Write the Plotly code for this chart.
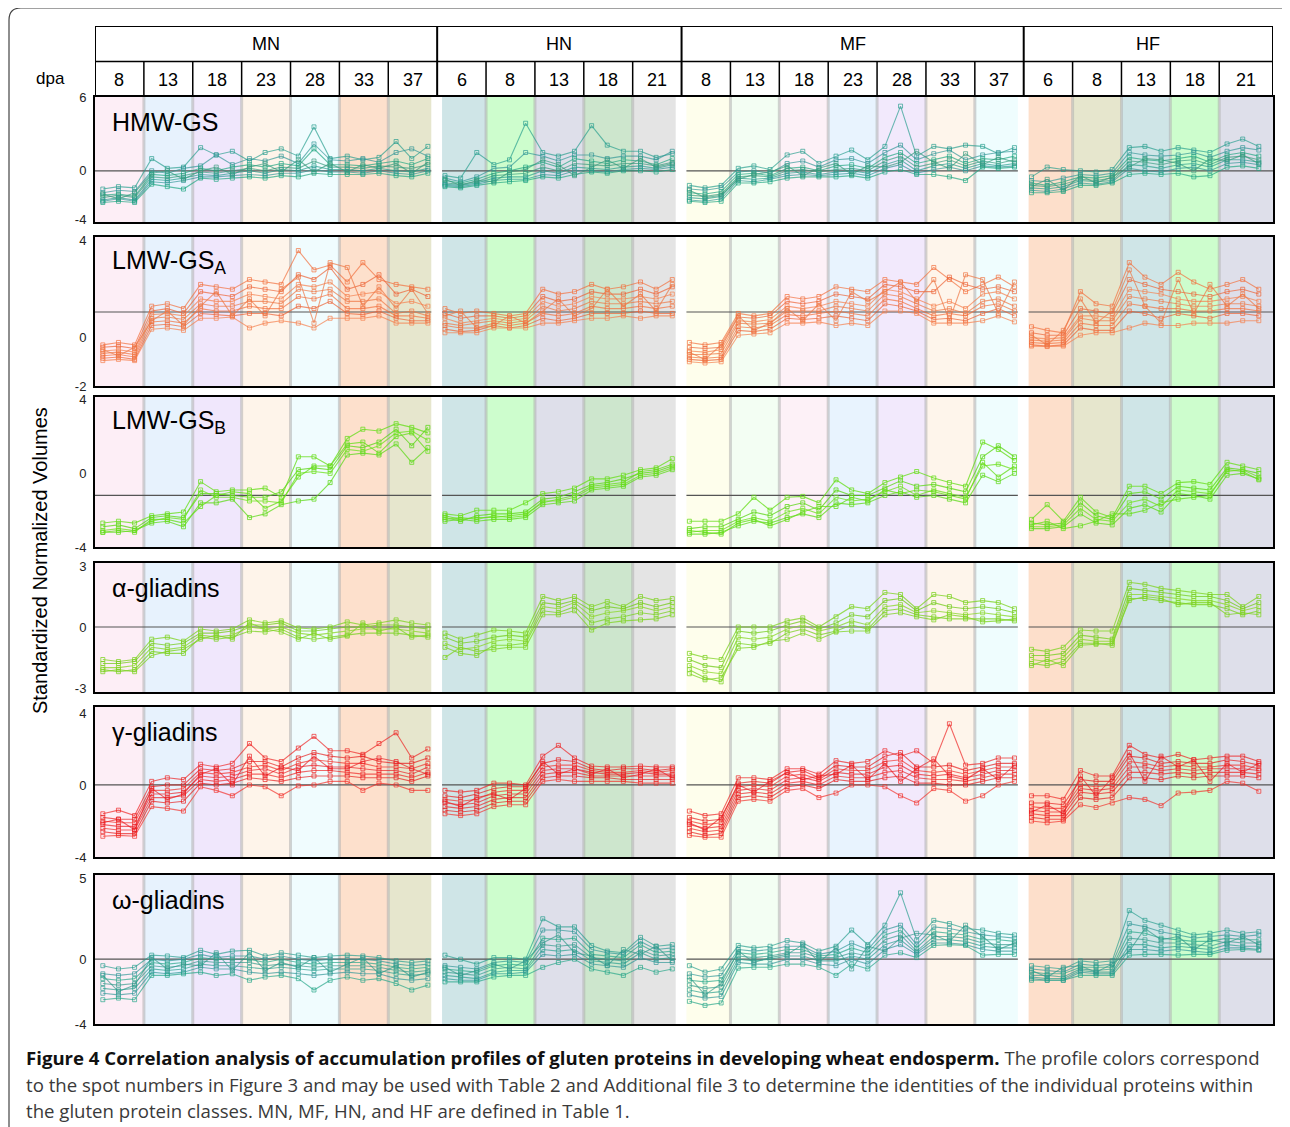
import plotly.graph_objects as go

W, H = 1290, 1127
PAGE_OFFSET = 8  # default body margin of the html page

# ---------------- categories / labels ----------------
GROUPS = ["MN", "HN", "MF", "HF"]
DPA = {"MN": [8, 13, 18, 23, 28, 33, 37], "HN": [6, 8, 13, 18, 21],
       "MF": [8, 13, 18, 23, 28, 33, 37], "HF": [6, 8, 13, 18, 21]}
BAND_COLORS = ["#fdeef6", "#e7f2fd", "#f0e7fc", "#fef4ea", "#f0fcfe", "#fde0cc", "#e6e6cd",
               "#cfe5e7", "#cdfdcd", "#dedfea", "#cde6cd", "#e4e4e4",
               "#fefeec", "#f3fef3", "#fdf1f7", "#e8f3fe", "#f2e9fc", "#fef5eb", "#effdfe",
               "#fddfcb", "#e6e6cd", "#cfe5e7", "#cdfdcd", "#dedfea"]
PANEL_NAMES = ["HMW-GS", "LMW-GS<sub>A</sub>", "LMW-GS<sub>B</sub>",
               "\u03b1-gliadins", "\u03b3-gliadins", "\u03c9-gliadins"]
Y_TICKS = [[6, 0, -4], [4, 0, -2], [4, 0, -4], [3, 0, -3], [4, 0, -4], [5, 0, -4]]
Y_RANGES = [[-4.2, 6.05], [-2, 4.16], [-4, 4.15], [-3.2, 3.15], [-4, 4.33], [-4, 5.2]]
REF_LINE = [0, 1.06, -1.2, 0, 0, 0]
REP_OFFSETS = [0.16, 0.48, 0.81]

# ---------------- series values (3 replicates x 24 time points) ----------------
HMW_GS = [
    [-1.5,-1.3,-1.4, 1.0,0.2,0.3, 1.9,1.3,1.6, 0.8,1.5,1.8, 1.2,3.6,1.0, 1.2,0.9,1.1, 2.4,1.0,2.0,
     -0.4,-0.6,1.5, 0.5,0.9,3.9, 1.5,1.2,1.6, 3.7,2.1,1.6, 1.6,1.1,1.4,
     -1.2,-1.4,-1.2, 0.2,0.4,0.1, 1.3,1.6,0.6, 1.2,1.7,0.9, 2.0,5.3,1.2, 2.0,1.8,2.1, 2.0,1.4,1.9,
     -0.5,0.3,0.1, 0.0,-0.1,0.1, 1.9,2.0,1.6, 1.9,1.7,1.5, 2.2,2.6,2.0],
    [-1.8,-1.6,-1.7, 0.0,-0.2,0.2, 0.4,1.3,0.5, 1.0,0.8,1.2, 0.6,2.2,0.9, 0.8,1.0,0.7, 1.5,1.8,1.2,
     -0.6,-0.9,-0.5, 0.2,0.3,1.5, 1.2,0.8,1.3, 1.3,1.0,1.2, 1.2,0.9,1.6,
     -1.5,-1.6,-1.4, -0.1,0.0,-0.2, 0.6,0.8,0.3, 0.9,1.0,0.6, 1.5,2.1,0.9, 1.4,1.7,0.9, 1.3,1.5,1.6,
     -0.8,-0.9,-0.6, -0.3,-0.4,-0.2, 1.5,1.3,1.2, 1.3,1.5,1.1, 1.6,1.9,1.7],
    [-2.0,-1.9,-2.1, -0.3,-0.4,-0.2, 0.2,0.0,0.3, 0.5,0.3,0.6, 0.4,1.8,0.5, 0.5,0.4,0.6, 0.8,0.5,1.0,
     -0.8,-1.0,-0.7, -0.2,0.0,0.3, 0.7,0.3,1.0, 0.8,0.6,0.9, 0.8,0.5,1.0,
     -1.8,-1.9,-1.7, -0.3,-0.2,-0.4, 0.2,0.3,0.0, 0.4,0.5,0.2, 1.1,1.5,0.6, 0.9,1.2,0.6, 1.0,0.9,1.2,
     -1.0,-1.2,-0.9, -0.5,-0.6,-0.4, 1.1,0.9,0.8, 1.0,1.2,0.7, 1.3,1.5,1.2],
    [-2.2,-2.0,-2.2, -0.5,-0.6,-0.4, -0.1,-0.2,0.0, 0.2,0.0,0.3, 0.2,0.8,0.3, 0.3,0.2,0.4, 0.3,0.2,0.5,
     -1.0,-1.1,-0.9, -0.4,-0.3,-0.2, 0.3,0.0,0.6, 0.5,0.4,0.6, 0.6,0.4,0.7,
     -2.0,-2.1,-1.9, -0.5,-0.4,-0.5, 0.0,0.1,-0.1, 0.1,0.2,0.0, 0.8,1.2,0.3, 0.6,0.9,0.4, 0.8,0.6,0.9,
     -1.2,-1.3,-1.1, -0.7,-0.8,-0.6, 0.8,0.7,0.5, 0.8,0.9,0.5, 1.1,1.2,0.9],
    [-2.4,-2.2,-2.4, -0.7,-0.8,-0.6, -0.3,-0.4,-0.2, 0.0,-0.2,0.1, 0.0,0.4,0.1, 0.1,0.0,0.2, 0.0,-0.1,0.2,
     -1.1,-1.2,-1.0, -0.6,-0.5,-0.5, 0.0,-0.2,0.3, 0.2,0.1,0.3, 0.4,0.2,0.5,
     -2.2,-2.3,-2.1, -0.6,-0.7,-0.6, -0.2,-0.1,-0.3, -0.1,0.0,-0.2, 0.5,0.9,0.0, 0.4,0.6,0.2, 0.6,0.4,0.6,
     -1.4,-1.5,-1.3, -0.8,-0.9,-0.8, 0.5,0.4,0.2, 0.5,0.6,0.3, 0.9,0.9,0.7],
    [-2.5,-2.3,-2.5, -0.9,-1.0,-0.8, -0.5,-0.5,-0.4, -0.3,-0.4,-0.2, -0.2,0.1,-0.1, -0.1,-0.2,0.0, -0.2,-0.3,0.0,
     -1.2,-1.3,-1.1, -0.8,-0.7,-0.7, -0.3,-0.4,0.0, 0.0,-0.1,0.1, 0.2,0.1,0.3,
     -2.4,-2.5,-2.3, -0.8,-0.9,-0.7, -0.4,-0.3,-0.4, -0.3,-0.2,-0.4, 0.2,0.5,-0.2, 0.1,0.3,0.0, 0.4,0.3,0.4,
     -1.6,-1.7,-1.5, -1.0,-1.1,-0.9, 0.2,0.0,-0.1, 0.2,0.3,0.0, 0.6,0.7,0.5],
    [-2.6,-2.5,-2.6, -1.1,-1.3,-1.5, -0.6,-0.7,-0.6, -0.5,-0.6,-0.4, -0.5,-0.2,-0.3, -0.3,-0.3,-0.2, -0.4,-0.5,-0.2,
     -1.3,-1.4,-1.2, -1.0,-0.9,-0.8, -0.5,-0.6,-0.3, -0.1,-0.2,0.0, 0.0,-0.1,0.1,
     -2.5,-2.6,-2.5, -1.0,-1.0,-0.9, -0.6,-0.5,-0.5, -0.5,-0.4,-0.6, -0.1,0.1,-0.3, -0.3,-0.5,-0.8, 0.3,0.2,0.3,
     -1.8,-1.8,-1.7, -1.2,-1.2,-1.0, -0.3,-0.2,-0.3, -0.2,-0.5,-0.4, 0.3,0.4,0.2],
    [-1.9,-2.3,-1.8, -0.2,0.0,-0.7, 0.0,0.3,-0.3, 0.3,0.6,-0.1, 0.9,-0.1,0.6, -0.1,0.5,0.2, 0.6,-0.2,0.7,
     -0.7,-1.2,-0.8, -0.9,-0.1,0.1, 0.9,0.5,-0.4, 0.3,0.9,0.2, 1.0,0.3,0.6,
     -1.6,-2.2,-2.0, -0.7,-0.3,-0.1, 0.4,-0.4,0.2, 0.6,-0.3,0.4, 0.3,0.7,1.6, 0.7,0.2,1.4, 0.5,1.1,0.7,
     -1.3,-0.7,-1.6, -0.4,-1.0,-0.5, 0.3,1.0,0.9, 0.6,0.0,1.0, 0.8,1.3,0.6],
]

LMW_GS_A = [
    [-0.3,-0.2,-0.3, 1.3,1.4,1.2, 2.2,2.1,2.0, 2.4,2.3,2.2, 3.6,2.8,3.0, 2.3,3.1,2.4, 2.2,2.1,2.0,
     1.2,1.0,1.1, 1.0,0.9,1.0, 2.0,1.8,1.9, 2.2,2.0,2.1, 2.3,2.0,2.4,
     -0.2,-0.3,-0.2, 1.0,0.9,1.0, 1.7,1.6,1.7, 2.1,2.0,1.9, 2.4,2.3,2.2, 2.9,2.4,1.9, 2.2,2.5,2.1,
     0.45,0.3,0.2, 1.9,1.4,1.3, 3.1,2.5,2.2, 2.7,2.3,2.0, 2.2,2.4,2.0],
    [-0.4,-0.35,-0.45, 1.1,1.2,1.0, 1.9,1.8,1.7, 2.1,2.0,1.9, 2.6,2.4,2.9, 2.0,2.2,2.6, 1.8,2.0,1.7,
     1.0,0.8,0.9, 0.9,0.8,0.9, 1.7,1.5,1.6, 1.9,1.8,1.8, 2.0,1.8,2.1,
     -0.4,-0.45,-0.4, 0.85,0.8,0.9, 1.5,1.4,1.5, 1.8,1.7,1.6, 2.2,2.1,1.9, 1.9,2.5,2.2, 2.0,2.1,1.9,
     0.2,0.1,0.1, 1.2,1.1,1.0, 2.4,2.2,2.0, 1.9,1.8,1.7, 1.9,2.0,1.8],
    [-0.55,-0.5,-0.6, 0.95,1.0,0.9, 1.6,1.5,1.5, 1.8,1.7,1.6, 2.2,2.1,2.3, 1.7,1.8,1.9, 1.4,1.5,1.3,
     0.8,0.6,0.7, 0.8,0.7,0.8, 1.5,1.3,1.4, 1.7,1.6,1.6, 1.7,1.6,1.8,
     -0.55,-0.6,-0.5, 0.7,0.65,0.75, 1.3,1.2,1.3, 1.5,1.4,1.3, 2.0,1.9,1.6, 1.3,1.5,1.2, 1.8,1.9,1.6,
     0.0,-0.05,0.0, 0.9,0.9,0.8, 2.0,1.9,1.8, 1.6,1.5,1.5, 1.6,1.7,1.5],
    [-0.65,-0.6,-0.7, 0.8,0.85,0.75, 1.4,1.3,1.3, 1.5,1.5,1.4, 2.0,1.9,2.0, 1.5,1.5,1.6, 1.0,1.1,0.9,
     0.6,0.5,0.6, 0.7,0.6,0.7, 1.3,1.1,1.2, 1.5,1.4,1.4, 1.5,1.4,1.5,
     -0.7,-0.7,-0.65, 0.6,0.55,0.6, 1.1,1.1,1.1, 1.3,1.2,1.1, 1.8,1.7,1.4, 1.1,1.2,1.0, 1.5,1.6,1.3,
     -0.1,-0.15,-0.1, 0.8,0.7,0.7, 1.7,1.6,1.5, 1.4,1.3,1.3, 1.4,1.4,1.3],
    [-0.75,-0.7,-0.8, 0.65,0.7,0.6, 1.2,1.1,1.1, 1.3,1.2,1.2, 1.7,1.6,1.8, 1.2,1.2,1.3, 0.9,0.9,0.8,
     0.5,0.4,0.4, 0.6,0.5,0.6, 1.0,0.9,1.0, 1.3,1.2,1.2, 1.3,1.2,1.3,
     -0.8,-0.85,-0.8, 0.45,0.4,0.5, 0.95,0.9,1.0, 1.1,1.0,0.9, 1.6,1.5,1.2, 0.9,1.0,0.9, 1.3,1.4,1.1,
     -0.2,-0.25,-0.2, 0.6,0.5,0.5, 1.4,1.3,1.2, 1.2,1.1,1.1, 1.2,1.2,1.1],
    [-0.85,-0.8,-0.9, 0.5,0.55,0.45, 1.0,0.95,0.9, 1.0,1.0,0.9, 1.3,1.2,1.5, 1.0,0.95,1.1, 0.8,0.7,0.7,
     0.35,0.25,0.3, 0.5,0.4,0.5, 0.8,0.7,0.8, 1.0,1.0,1.0, 1.1,1.0,1.0,
     -0.9,-0.95,-0.9, 0.3,0.25,0.35, 0.8,0.75,0.8, 0.9,0.8,0.7, 1.4,1.3,1.1, 0.75,0.8,0.7, 1.0,1.2,0.9,
     -0.3,-0.35,-0.3, 0.4,0.3,0.3, 1.1,1.0,0.8, 1.0,0.9,0.8, 1.0,1.0,0.9],
    [-0.95,-0.9,-0.95, 0.35,0.4,0.3, 0.8,0.8,0.85, 0.4,0.6,0.7, 0.6,0.4,0.8, 0.8,0.8,0.9, 0.6,0.6,0.6,
     0.2,0.2,0.2, 0.4,0.4,0.4, 0.6,0.6,0.7, 0.8,0.8,0.9, 0.8,0.9,0.9,
     -1.0,-1.05,-1.0, 0.1,0.15,0.2, 0.6,0.6,0.65, 0.5,0.6,0.5, 1.1,1.1,1.0, 0.6,0.6,0.6, 0.7,0.9,0.65,
     -0.35,-0.37,-0.35, 0.1,0.2,0.2, 0.4,0.6,0.5, 0.5,0.6,0.6, 0.6,0.7,0.7],
    [-0.5,-0.75,-0.4, 0.7,1.1,0.5, 1.3,1.9,0.9, 1.6,0.9,2.0, 2.5,0.6,3.1, 2.9,1.3,2.1, 1.2,2.0,1.0,
     0.9,1.1,0.4, 0.5,0.9,0.6, 1.1,1.6,0.9, 1.2,2.0,1.3, 1.8,1.1,2.2,
     -0.6,-0.9,-0.3, 0.9,0.3,0.6, 1.2,0.7,1.4, 0.7,1.9,1.5, 1.9,2.3,1.5, 2.4,0.7,2.6, 2.4,1.0,2.3,
     0.1,-0.3,0.3, 1.6,0.6,1.1, 2.8,1.3,0.6, 2.4,1.0,2.2, 1.3,1.8,1.2],
]

LMW_GS_B = [
    [-2.7,-2.6,-2.7, -2.3,-2.2,-2.1, -0.45,-1.0,-0.9, -0.9,-0.8,-1.3, 0.9,0.9,0.4, 1.9,2.4,2.3, 2.7,2.5,2.2,
     -2.2,-2.3,-2.0, -2.0,-2.0,-1.6, -1.1,-1.0,-0.8, -0.3,-0.3,-0.1, 0.2,0.3,0.8,
     -2.6,-2.6,-2.6, -2.2,-1.3,-2.0, -1.3,-1.25,-1.6, -0.35,-0.9,-1.1, -0.5,-0.2,0.1, -0.25,-0.5,-0.7, 1.7,1.3,0.7,
     -2.5,-1.7,-2.6, -1.3,-2.1,-2.4, -0.7,-0.7,-1.1, -0.5,-0.45,-0.6, 0.6,0.4,0.2],
    [-2.9,-2.8,-3.0, -2.4,-2.3,-2.4, -1.1,-1.1,-1.2, -1.3,-1.3,-1.0, 0.2,0.3,0.2, 1.5,1.4,1.7, 2.4,1.5,2.5,
     -2.4,-2.6,-2.3, -2.2,-2.2,-2.1, -1.4,-1.3,-1.0, -0.6,-0.5,-0.3, 0.0,0.1,0.4,
     -3.0,-2.9,-2.9, -2.5,-2.1,-2.3, -1.8,-1.6,-2.0, -0.9,-1.2,-1.2, -0.8,-0.4,-0.7, -0.6,-0.8,-1.0, 0.9,1.5,0.9,
     -2.7,-2.8,-2.7, -1.6,-2.3,-2.5, -1.1,-1.0,-1.4, -0.7,-0.8,-0.9, 0.3,0.2,0.0],
    [-3.1,-3.0,-3.1, -2.6,-2.4,-2.5, -0.9,-1.3,-1.3, -1.5,-1.5,-1.6, 0.0,0.1,0.0, 1.3,1.2,1.5, 2.2,2.3,1.8,
     -2.5,-2.4,-2.5, -2.3,-2.4,-2.3, -1.5,-1.5,-1.3, -0.8,-0.7,-0.6, -0.1,0.0,0.3,
     -3.2,-3.1,-3.1, -2.6,-2.4,-2.6, -2.1,-1.9,-2.2, -1.3,-1.5,-1.4, -1.0,-0.7,-1.2, -0.9,-1.1,-1.3, 0.4,0.5,0.2,
     -2.9,-2.9,-2.8, -1.9,-2.5,-2.6, -1.6,-1.4,-1.8, -0.9,-1.0,-1.1, 0.1,0.2,-0.2],
    [-3.2,-3.2,-3.1, -2.7,-2.6,-2.9, -1.6,-1.6,-1.4, -2.4,-2.2,-1.7, -1.5,-1.4,-0.5, 1.0,1.1,1.0, 1.6,0.6,1.4,
     -2.6,-2.5,-2.6, -2.5,-2.5,-2.4, -1.7,-1.6,-1.5, -0.9,-0.8,-0.7, -0.2,-0.1,0.2,
     -3.3,-3.3,-3.2, -2.85,-2.6,-2.7, -2.4,-2.2,-2.4, -1.6,-1.7,-1.6, -1.2,-1.0,-1.3, -1.2,-1.4,-1.6, -0.1,-0.45,0.0,
     -3.0,-3.0,-2.9, -2.2,-2.7,-2.8, -1.9,-1.7,-2.1, -1.1,-1.2,-1.4, -0.1,0.0,-0.3],
    [-3.2,-3.1,-3.2, -2.5,-2.5,-2.7, -1.8,-1.2,-1.0, -1.1,-1.9,-1.5, -0.2,0.4,0.4, 1.6,1.7,1.1, 2.0,2.2,1.2,
     -2.3,-2.5,-2.4, -2.4,-2.3,-2.2, -1.6,-1.4,-1.2, -0.7,-0.6,-0.5, 0.1,0.2,0.5,
     -3.1,-3.2,-3.3, -2.7,-2.5,-2.85, -2.5,-2.1,-1.8, -1.8,-1.3,-1.5, -0.9,-1.1,-0.9, -1.0,-1.2,-1.4, 0.6,-0.2,0.4,
     -2.8,-2.6,-3.0, -2.85,-2.6,-2.2, -2.2,-2.0,-1.6, -1.4,-1.3,-1.2, 0.2,0.1,-0.35],
]

ALPHA_GLIADINS = [
    [-1.6,-1.7,-1.6, -0.6,-0.5,-0.7, -0.1,-0.2,-0.1, 0.35,0.2,0.3, -0.05,-0.1,0.0, 0.25,0.1,0.2, 0.35,0.2,0.1,
     -0.3,-0.6,-0.4, -0.15,-0.2,-0.3, 1.5,1.3,1.5, 1.0,1.25,1.0, 1.5,1.3,1.4,
     -1.3,-1.5,-1.6, 0.0,0.0,0.0, 0.3,0.45,0.0, 0.5,1.0,0.9, 1.7,1.6,0.9, 1.6,1.5,1.2, 1.3,1.2,0.9,
     -1.1,-1.2,-1.0, -0.15,-0.2,-0.2, 2.2,2.1,1.9, 1.8,1.7,1.6, 1.6,1.0,1.5],
    [-1.8,-1.8,-1.7, -0.8,-0.9,-0.8, -0.3,-0.3,-0.2, 0.1,0.1,0.2, -0.2,-0.2,-0.1, 0.0,0.0,0.1, 0.1,0.0,-0.1,
     -0.5,-0.8,-0.7, -0.5,-0.4,-0.5, 1.2,1.1,1.3, 0.8,1.0,0.9, 1.2,1.0,1.2,
     -1.6,-1.9,-2.0, -0.2,-0.3,-0.2, 0.1,0.3,-0.1, 0.2,0.6,0.5, 1.3,1.4,0.8, 1.2,1.0,0.9, 1.0,0.9,0.7,
     -1.4,-1.4,-1.3, -0.4,-0.5,-0.6, 1.9,1.8,1.7, 1.6,1.5,1.5, 1.3,0.9,1.2],
    [-2.0,-2.0,-1.9, -1.0,-1.1,-1.0, -0.4,-0.5,-0.4, 0.0,-0.1,0.0, -0.3,-0.4,-0.3, -0.2,-0.1,-0.1, -0.1,-0.2,-0.3,
     -0.8,-1.1,-1.0, -0.7,-0.6,-0.7, 1.0,0.9,1.2, 0.5,0.7,0.8, 1.0,0.8,1.0,
     -1.9,-2.2,-2.3, -0.5,-0.6,-0.5, -0.1,0.1,-0.2, 0.0,0.3,0.1, 1.0,1.1,0.7, 0.8,0.7,0.6, 0.7,0.6,0.5,
     -1.6,-1.7,-1.5, -0.6,-0.7,-0.7, 1.6,1.6,1.5, 1.4,1.3,1.3, 1.1,0.8,1.0],
    [-2.1,-2.2,-2.1, -1.2,-1.3,-1.3, -0.5,-0.6,-0.5, -0.2,-0.25,-0.1, -0.5,-0.6,-0.5, -0.4,-0.3,-0.3, -0.3,-0.4,-0.5,
     -1.0,-1.3,-1.4, -0.9,-0.9,-0.8, 0.8,0.7,1.0, 0.2,0.4,0.5, 0.7,0.6,0.8,
     -2.1,-2.5,-2.7, -0.8,-0.9,-0.8, -0.3,-0.1,-0.4, -0.2,0.1,-0.1, 0.8,0.9,0.6, 0.5,0.4,0.4, 0.4,0.4,0.3,
     -1.8,-1.9,-1.7, -0.8,-0.8,-0.9, 1.4,1.4,1.3, 1.2,1.1,1.1, 0.9,0.6,0.8],
    [-2.2,-2.1,-2.2, -1.4,-1.2,-1.1, -0.6,-0.4,-0.6, 0.2,-0.1,-0.25, -0.6,-0.3,-0.6, -0.45,0.2,-0.2, 0.0,-0.5,-0.4,
     -1.5,-1.0,-1.2, -1.1,-1.0,-1.0, 0.6,0.6,0.8, -0.15,0.2,0.3, 0.35,0.4,0.6,
     -2.3,-2.6,-2.5, -1.05,-1.0,-0.7, -0.6,-0.3,-0.6, -0.25,-0.2,-0.2, 0.6,0.7,0.5, 0.35,0.6,0.5, 0.25,0.3,0.4,
     -1.9,-1.6,-1.9, -0.9,-0.85,-0.8, 1.3,1.5,1.4, 1.1,1.2,1.2, 0.6,0.7,0.6],
]

GAMMA_GLIADINS = [
    [-1.6,-1.4,-1.7, 0.2,0.4,0.3, 1.15,1.0,1.2, 2.3,1.5,1.3, 2.05,2.7,1.9, 1.9,1.7,2.3, 2.9,1.5,2.0,
     -0.3,-0.4,-0.3, 0.1,0.1,0.0, 1.6,2.2,1.5, 1.05,1.0,1.0, 1.05,1.0,1.0,
     -1.45,-1.7,-1.6, 0.4,0.4,0.3, 0.9,0.9,0.6, 1.35,1.2,1.3, 1.9,1.6,1.9, 1.2,3.4,1.1, 1.2,1.5,1.5,
     -0.6,-0.6,-0.8, 0.8,0.5,0.5, 2.2,1.7,1.5, 1.7,1.4,1.5, 1.6,1.6,1.3],
    [-1.8,-1.9,-1.9, -0.1,0.0,0.0, 0.9,0.8,0.9, 1.3,1.3,1.0, 1.5,1.8,1.6, 1.5,1.6,1.3, 1.2,1.2,1.5,
     -0.6,-0.7,-0.5, -0.2,-0.1,-0.1, 1.2,1.4,1.3, 0.9,0.8,0.9, 0.9,0.8,0.9,
     -1.8,-2.0,-1.9, 0.1,0.2,0.1, 0.7,0.8,0.4, 1.1,1.0,1.0, 1.6,1.8,1.0, 1.0,1.1,0.8, 1.0,1.2,1.2,
     -1.0,-1.0,-1.1, 0.3,0.2,0.2, 1.6,1.5,1.2, 1.3,1.2,1.2, 1.4,1.3,1.1],
    [-2.0,-2.1,-2.1, -0.3,-0.3,-0.2, 0.7,0.6,0.7, 1.0,1.1,0.8, 1.2,1.4,1.3, 1.2,1.2,1.0, 1.0,0.9,1.2,
     -0.8,-0.9,-0.8, -0.4,-0.3,-0.3, 1.0,1.1,1.1, 0.8,0.7,0.7, 0.8,0.7,0.8,
     -2.0,-2.2,-2.1, -0.1,0.0,-0.1, 0.5,0.6,0.3, 0.9,0.8,0.8, 1.3,1.4,0.8, 0.7,0.8,0.6, 0.8,1.0,1.0,
     -1.2,-1.3,-1.3, 0.0,-0.1,0.0, 1.3,1.2,1.0, 1.1,1.0,1.0, 1.1,1.1,0.9],
    [-2.2,-2.3,-2.3, -0.5,-0.5,-0.4, 0.5,0.4,0.5, 0.8,0.9,0.6, 1.0,1.1,1.0, 1.0,0.9,0.8, 0.8,0.6,1.0,
     -1.0,-1.1,-1.0, -0.6,-0.5,-0.5, 0.8,0.9,0.9, 0.7,0.6,0.6, 0.7,0.6,0.6,
     -2.2,-2.4,-2.3, -0.3,-0.2,-0.3, 0.3,0.4,0.2, 0.7,0.6,0.6, 1.0,1.1,0.6, 0.5,0.6,0.4, 0.6,0.8,0.8,
     -1.4,-1.5,-1.5, -0.2,-0.3,-0.2, 1.0,1.0,0.8, 0.9,0.8,0.9, 0.9,0.9,0.8],
    [-2.4,-2.5,-2.5, -0.7,-0.7,-0.6, 0.3,0.2,0.3, 0.6,0.6,0.4, 0.7,0.8,0.8, 0.7,0.6,0.6, 0.6,0.4,0.7,
     -1.2,-1.3,-1.2, -0.8,-0.7,-0.7, 0.6,0.7,0.7, 0.5,0.5,0.5, 0.5,0.5,0.5,
     -2.4,-2.6,-2.5, -0.5,-0.4,-0.5, 0.1,0.2,0.0, 0.5,0.4,0.4, 0.7,0.8,0.4, 0.3,0.3,0.2, 0.4,0.6,0.6,
     -1.6,-1.7,-1.7, -0.4,-0.5,-0.4, 0.7,0.7,0.6, 0.7,0.6,0.7, 0.7,0.7,0.6],
    [-2.6,-2.7,-2.7, -0.9,-1.0,-0.9, 0.1,0.0,0.1, 0.4,0.3,0.2, 0.4,0.5,0.5, 0.5,0.4,0.4, 0.4,0.2,0.5,
     -1.4,-1.5,-1.4, -1.0,-0.9,-0.9, 0.4,0.5,0.5, 0.4,0.4,0.3, 0.3,0.3,0.3,
     -2.6,-2.8,-2.7, -0.7,-0.6,-0.7, -0.1,0.0,-0.2, 0.3,0.2,0.2, 0.4,0.5,0.1, 0.1,0.0,0.0, 0.2,0.4,0.4,
     -1.8,-1.9,-1.9, -0.7,-0.8,-0.7, 0.4,0.4,0.3, 0.5,0.4,0.5, 0.5,0.5,0.4],
    [-2.85,-2.8,-2.85, -1.2,-1.3,-1.45, -0.1,-0.3,-0.6, 0.0,-0.1,-0.6, -0.05,0.0,0.2, 0.2,-0.3,0.1, 0.0,-0.3,-0.3,
     -1.6,-1.7,-1.6, -1.2,-1.1,-1.1, 0.2,0.3,0.2, 0.2,0.2,0.2, 0.1,0.1,0.1,
     -2.8,-2.9,-2.9, -0.9,-0.8,-0.9, -0.3,-0.2,-0.7, -0.45,0.0,0.0, -0.1,-0.6,-1.0, -0.2,-0.3,-0.9, -0.6,0.0,0.2,
     -2.0,-2.1,-2.0, -1.1,-1.25,-1.0, -0.7,-0.8,-1.15, -0.45,-0.4,-0.3, 0.2,0.1,-0.35],
    [-2.1,-1.9,-2.5, -0.2,-0.8,-0.5, 0.6,0.9,0.0, 1.6,0.5,1.0, 0.8,1.6,0.9, 0.9,1.3,1.5, 1.3,0.9,0.6,
     -0.9,-1.2,-0.7, -0.5,-0.8,-0.2, 1.3,0.6,0.9, 0.6,0.9,0.4, 0.6,0.9,0.4,
     -2.1,-2.5,-1.8, 0.0,-0.4,0.2, 0.7,0.3,0.5, 0.6,1.1,0.3, 1.2,0.2,0.9, 1.45,0.5,0.3, 0.9,0.3,1.1,
     -1.5,-1.1,-1.6, 0.5,-0.6,0.4, 1.8,0.2,1.6, 1.0,1.4,0.2, 1.2,0.7,1.2],
]

OMEGA_GLIADINS = [
    [-0.4,-0.6,-0.5, 0.25,0.2,0.1, 0.55,0.3,0.5, 0.55,0.2,0.4, 0.25,0.1,0.2, 0.25,0.2,0.1, -0.1,-0.2,-0.1,
     0.25,0.0,-0.3, 0.1,0.1,0.0, 2.5,2.0,2.0, 0.85,0.5,0.4, 1.35,0.8,0.9,
     -0.4,-0.8,-0.6, 0.85,0.7,0.8, 1.15,1.0,0.5, 0.8,1.8,0.9, 2.1,4.1,1.2, 2.4,2.2,1.9, 1.8,1.6,1.5,
     -0.4,-0.5,-0.6, -0.1,-0.2,-0.1, 3.0,2.4,2.1, 1.8,1.5,1.6, 1.8,1.6,1.7],
    [-0.9,-1.0,-0.9, 0.0,-0.1,0.0, 0.3,0.1,0.2, 0.2,0.0,0.2, 0.0,-0.1,0.0, 0.0,0.0,-0.1, -0.3,-0.4,-0.3,
     -0.4,-0.5,-0.6, -0.2,-0.1,-0.2, 1.8,1.8,1.7, 0.6,0.4,0.3, 1.1,0.6,0.7,
     -0.9,-1.1,-1.0, 0.6,0.5,0.6, 0.8,0.8,0.3, 0.5,1.0,0.6, 1.8,2.1,0.9, 2.0,1.9,1.7, 1.5,1.4,1.3,
     -0.6,-0.7,-0.8, -0.3,-0.4,-0.3, 2.2,2.0,1.7, 1.5,1.3,1.4, 1.5,1.4,1.5],
    [-1.2,-1.3,-1.2, -0.2,-0.3,-0.2, 0.1,0.0,0.0, 0.0,-0.2,0.0, -0.2,-0.3,-0.2, -0.2,-0.2,-0.3, -0.5,-0.6,-0.5,
     -0.6,-0.7,-0.8, -0.4,-0.3,-0.4, 1.3,1.2,1.3, 0.3,0.2,0.1, 0.9,0.4,0.5,
     -1.3,-1.4,-1.3, 0.4,0.3,0.4, 0.6,0.6,0.2, 0.3,0.7,0.4, 1.5,1.8,0.7, 1.7,1.6,1.5, 1.2,1.2,1.1,
     -0.8,-0.9,-0.9, -0.5,-0.5,-0.5, 1.7,1.6,1.3, 1.2,1.1,1.1, 1.3,1.2,1.2],
    [-1.5,-1.6,-1.5, -0.4,-0.5,-0.4, -0.1,-0.2,-0.2, -0.2,-0.4,-0.3, -0.4,-0.5,-0.4, -0.4,-0.4,-0.5, -0.7,-0.8,-0.7,
     -0.8,-0.9,-1.0, -0.6,-0.5,-0.6, 0.9,0.8,0.9, 0.1,0.0,-0.1, 0.6,0.2,0.3,
     -1.6,-1.8,-1.7, 0.2,0.1,0.2, 0.4,0.4,0.1, 0.1,0.4,0.2, 1.2,1.5,0.5, 1.4,1.4,1.3, 1.0,0.9,0.9,
     -1.0,-1.0,-1.1, -0.6,-0.7,-0.6, 1.3,1.2,1.0, 1.0,0.9,0.8, 1.1,1.0,1.0],
    [-1.8,-1.9,-1.8, -0.6,-0.7,-0.6, -0.3,-0.4,-0.4, -0.5,-0.6,-0.5, -0.6,-0.7,-0.6, -0.6,-0.6,-0.7, -0.9,-1.0,-0.9,
     -1.0,-1.1,-1.2, -0.8,-0.7,-0.7, 0.6,0.5,0.6, -0.1,-0.2,-0.3, 0.4,0.0,0.1,
     -1.9,-2.1,-2.0, 0.0,-0.1,0.0, 0.2,0.2,-0.1, -0.1,0.2,0.0, 0.9,1.2,0.4, 1.2,1.2,1.1, 0.8,0.7,0.7,
     -1.1,-1.2,-1.2, -0.7,-0.8,-0.8, 0.9,0.9,0.7, 0.8,0.7,0.6, 0.9,0.8,0.8],
    [-2.1,-2.2,-2.1, -0.8,-0.9,-0.8, -0.5,-0.6,-0.6, -0.8,-0.9,-0.8, -0.9,-1.0,-0.9, -0.8,-0.9,-0.9, -1.2,-1.3,-1.2,
     -1.2,-1.3,-1.3, -0.9,-0.9,-0.8, 0.3,0.2,0.3, -0.3,-0.4,-0.5, 0.1,-0.2,-0.2,
     -2.2,-2.4,-2.3, -0.2,-0.3,-0.3, 0.0,0.0,-0.3, -0.4,0.0,-0.3, 0.6,0.9,0.3, 1.0,1.0,0.9, 0.6,0.5,0.5,
     -1.2,-1.3,-1.3, -0.8,-0.9,-0.9, 0.6,0.6,0.5, 0.6,0.5,0.4, 0.7,0.7,0.6],
    [-2.5,-2.4,-2.5, -1.0,-1.0,-0.9, -0.8,-1.0,-0.9, -1.3,-1.1,-1.0, -1.2,-1.9,-1.3, -1.1,-1.3,-1.2, -1.5,-1.9,-1.6,
     -1.4,-1.4,-1.4, -1.1,-1.0,-1.0, -0.5,-0.2,0.0, -0.6,-0.8,-1.0, -0.5,-0.8,-0.6,
     -2.6,-2.85,-2.7, -0.55,-0.5,-0.5, -0.3,-0.3,-0.5, -1.0,-0.3,-0.6, 0.25,0.4,0.1, 0.85,0.9,0.85, 0.25,0.3,0.3,
     -1.3,-1.3,-1.3, -1.0,-1.0,-1.0, 0.25,0.3,0.3, 0.25,0.3,0.3, 0.55,0.6,0.55],
    [-1.0,-2.0,-1.6, 0.1,-0.6,-0.3, -0.4,0.4,-0.7, 0.4,-0.7,-0.2, -0.5,0.1,-0.8, -0.3,0.1,-0.9, -0.4,-1.1,-0.8,
     -0.5,-1.0,-0.7, -0.3,-0.6,-0.1, 1.0,1.5,0.4, 0.2,-0.4,0.6, 0.3,0.8,-0.1,
     -1.1,-2.2,-1.5, 0.5,-0.2,0.1, 0.3,0.9,-0.2, 0.7,-0.6,0.8, 0.5,1.3,1.6, 1.5,1.1,2.1, 1.4,0.6,1.0,
     -0.7,-1.1,-0.5, -0.4,-0.8,-0.3, 0.5,1.9,1.2, 1.4,0.6,1.2, 1.0,1.4,0.9],
]

PANEL_DATA = [HMW_GS, LMW_GS_A, LMW_GS_B, ALPHA_GLIADINS, GAMMA_GLIADINS, OMEGA_GLIADINS]
PANEL_COLORS = [
    ["rgba(38,158,142,0.68)", "rgba(48,150,150,0.68)", "rgba(30,165,128,0.68)", "rgba(55,155,125,0.68)"],
    ["rgba(242,112,62,0.7)", "rgba(236,100,55,0.7)", "rgba(245,128,78,0.7)", "rgba(238,120,70,0.7)"],
    ["rgba(105,222,30,0.78)", "rgba(95,215,25,0.78)", "rgba(115,225,40,0.78)", "rgba(100,218,35,0.78)"],
    ["rgba(130,212,40,0.78)", "rgba(120,205,35,0.78)", "rgba(140,215,45,0.78)", "rgba(125,210,38,0.78)"],
    ["rgba(238,32,32,0.68)", "rgba(230,25,25,0.68)", "rgba(242,45,40,0.68)", "rgba(235,30,35,0.68)"],
    ["rgba(38,158,142,0.68)", "rgba(45,150,150,0.68)", "rgba(35,165,135,0.68)", "rgba(50,155,140,0.68)"],
]

# ---------------- layout geometry (target pixels in the photographed page) ----------------
X_LEFT, X_RIGHT = 95, 1273
HEADER_PX = (26, 97)
ROW_PX = [(97, 222), (237, 386), (397, 547), (563, 692), (707, 857), (875, 1024)]


def py(y):
    return 1 - (y - PAGE_OFFSET) / H


def px(x):
    return (x - PAGE_OFFSET) / W


# group cell spans in x-data units (one unit per dpa cell, last cell slightly wider)
spans = []
start = 0
for g in GROUPS:
    n = len(DPA[g])
    spans.append((start, start + n))
    start += n
X_MAX = 24.1
cell_right = [i + 1 for i in range(24)]
cell_right[-1] = X_MAX

fig = go.Figure()
shapes = []
annotations = []
FONT = "Liberation Sans, Arial, Helvetica"

xdom = [px(X_LEFT), px(X_RIGHT)]
layout_axes = {}
layout_axes["xaxis"] = dict(domain=xdom, range=[0, X_MAX], visible=False, fixedrange=True, automargin=False)
layout_axes["yaxis"] = dict(domain=[py(HEADER_PX[1]), py(HEADER_PX[0])], range=[0, 2], visible=False,
                            automargin=False)

# dummy trace so header axes exist
fig.add_trace(go.Scatter(x=[None], y=[None], xaxis="x", yaxis="y", showlegend=False, hoverinfo="skip"))

# header table
shapes.append(dict(type="rect", xref="x", yref="y", x0=0, x1=X_MAX, y0=0, y1=2,
                   line=dict(color="black", width=2), layer="above"))
shapes.append(dict(type="line", xref="x", yref="y", x0=0, x1=X_MAX, y0=1, y1=1,
                   line=dict(color="black", width=1.5)))
for gi, (s, e) in enumerate(spans):
    g = GROUPS[gi]
    right = e if gi < len(spans) - 1 else X_MAX
    if gi > 0:
        shapes.append(dict(type="line", xref="x", yref="y", x0=s, x1=s, y0=0, y1=2,
                           line=dict(color="black", width=2)))
    annotations.append(dict(xref="x", yref="y", x=(s + right) / 2, y=1.5, text=g, showarrow=False,
                            xanchor="center", yanchor="middle",
                            font=dict(family=FONT, size=18, color="black")))
    for k, d in enumerate(DPA[g]):
        c = s + k
        if k > 0:
            shapes.append(dict(type="line", xref="x", yref="y", x0=c, x1=c, y0=0, y1=1,
                               line=dict(color="black", width=1.5)))
        annotations.append(dict(xref="x", yref="y", x=(c + cell_right[c]) / 2, y=0.47, text=str(d),
                                showarrow=False, xanchor="center", yanchor="middle",
                                font=dict(family=FONT, size=18, color="black")))

annotations.append(dict(xref="paper", yref="paper", x=px(50), y=py(79), text="dpa", showarrow=False,
                        xanchor="center", yanchor="middle",
                        font=dict(family=FONT, size=17, color="black")))

# data rows
for r in range(6):
    ax = r + 2
    xa, ya = f"x{ax}", f"y{ax}"
    top, bot = ROW_PX[r]
    layout_axes[f"xaxis{ax}"] = dict(domain=xdom, range=[0, X_MAX], showticklabels=False, showgrid=False,
                                     zeroline=False, showline=True, mirror=True, linecolor="black",
                                     linewidth=2, ticks="", fixedrange=True, automargin=False, anchor=ya)
    layout_axes[f"yaxis{ax}"] = dict(domain=[py(bot), py(top)], range=Y_RANGES[r], tickvals=Y_TICKS[r],
                                     ticktext=[str(v) for v in Y_TICKS[r]], showgrid=False, zeroline=False,
                                     showline=True, mirror=True, linecolor="black", linewidth=2, ticks="",
                                     tickfont=dict(family=FONT, size=13, color="#222"), ticklabelstandoff=4,
                                     automargin=False, anchor=xa)

    # background bands and separators
    for gi, (s, e) in enumerate(spans):
        last_group = gi == len(spans) - 1
        for c in range(s, e):
            x0 = c + (0.1 if (c == s and gi > 0) else 0)
            x1 = cell_right[c] - (0.12 if (c == e - 1 and not last_group) else 0)
            shapes.append(dict(type="rect", xref=xa, yref=f"{ya} domain", x0=x0, x1=x1, y0=0, y1=1,
                               fillcolor=BAND_COLORS[c], line=dict(width=0), layer="below"))
            if c > s:
                shapes.append(dict(type="line", xref=xa, yref=f"{ya} domain", x0=c, x1=c, y0=0, y1=1,
                                   line=dict(color="rgba(175,175,175,0.55)", width=3), layer="below"))
        g0 = s + (0.1 if gi > 0 else 0)
        g1 = (e - 0.12) if not last_group else X_MAX
        shapes.append(dict(type="line", xref=xa, yref=ya, x0=g0, x1=g1, y0=REF_LINE[r], y1=REF_LINE[r],
                           line=dict(color="#555555", width=1.2), layer="below"))

    # profile lines
    for li, vals in enumerate(PANEL_DATA[r]):
        assert len(vals) == 72, (r, li, len(vals))
        xs, ys = [], []
        for gi, (s, e) in enumerate(spans):
            for c in range(s, e):
                for k in range(3):
                    xs.append(c + REP_OFFSETS[k])
                    ys.append(vals[c * 3 + k])
            xs.append(None)
            ys.append(None)
        col = PANEL_COLORS[r][li % 4]
        fig.add_trace(go.Scatter(x=xs, y=ys, xaxis=xa, yaxis=ya, mode="lines+markers",
                                 line=dict(color=col, width=1.1),
                                 marker=dict(symbol="square-open", size=4, color=col,
                                             line=dict(width=1, color=col)),
                                 showlegend=False, hoverinfo="skip", connectgaps=False))

    # panel label
    label_y = top + 25
    annotations.append(dict(xref="paper", yref="paper", x=px(110), y=py(label_y), xanchor="left",
                            yanchor="middle", text=PANEL_NAMES[r], showarrow=False,
                            font=dict(family=FONT, size=25, color="black")))

# y axis title
annotations.append(dict(xref="paper", yref="paper", x=px(40), y=py(561), text="Standardized Normalized Volumes",
                        textangle=-90, showarrow=False, xanchor="center", yanchor="middle",
                        font=dict(family=FONT, size=20, color="black")))

# caption
CAPTION_BOLD = "Figure 4 Correlation analysis of accumulation profiles of gluten proteins in developing wheat endosperm."
CAPTION_LINES = [" The profile colors correspond",
                 "to the spot numbers in Figure 3 and may be used with Table 2 and Additional file 3 to determine the identities of the individual proteins within",
                 "the gluten protein classes. MN, MF, HN, and HF are defined in Table 1."]
cap_font = dict(family="Open Sans", size=18.6, color="#3a3a3a")
annotations.append(dict(xref="paper", yref="paper", x=px(24), y=py(1057), xanchor="left", yanchor="middle",
                        text=f"<b><span style='color:#111'>{CAPTION_BOLD}</span></b>{CAPTION_LINES[0]}",
                        showarrow=False, font=cap_font))
annotations.append(dict(xref="paper", yref="paper", x=px(24), y=py(1084), xanchor="left", yanchor="middle",
                        text=CAPTION_LINES[1], showarrow=False, font=cap_font))
annotations.append(dict(xref="paper", yref="paper", x=px(24), y=py(1110), xanchor="left", yanchor="middle",
                        text=CAPTION_LINES[2], showarrow=False, font=cap_font))

# outer rounded frame
x0p, x1p, y0p, y1p, rad = 9, 1300, 8, 1145, 12
path = (f"M {px(x0p)},{py(y0p + rad)} Q {px(x0p)},{py(y0p)} {px(x0p + rad)},{py(y0p)} "
        f"L {px(x1p - rad)},{py(y0p)} Q {px(x1p)},{py(y0p)} {px(x1p)},{py(y0p + rad)} "
        f"L {px(x1p)},{py(y1p)} L {px(x0p)},{py(y1p)} Z")
shapes.append(dict(type="path", xref="paper", yref="paper", path=path,
                   line=dict(color="#444", width=1.2), layer="below"))

fig.update_layout(width=W, height=H, margin=dict(l=0, r=0, t=0, b=0, autoexpand=False),
                  paper_bgcolor="white", plot_bgcolor="white",
                  shapes=shapes, annotations=annotations, showlegend=False, **layout_axes)

fig.write_html("out.html")
